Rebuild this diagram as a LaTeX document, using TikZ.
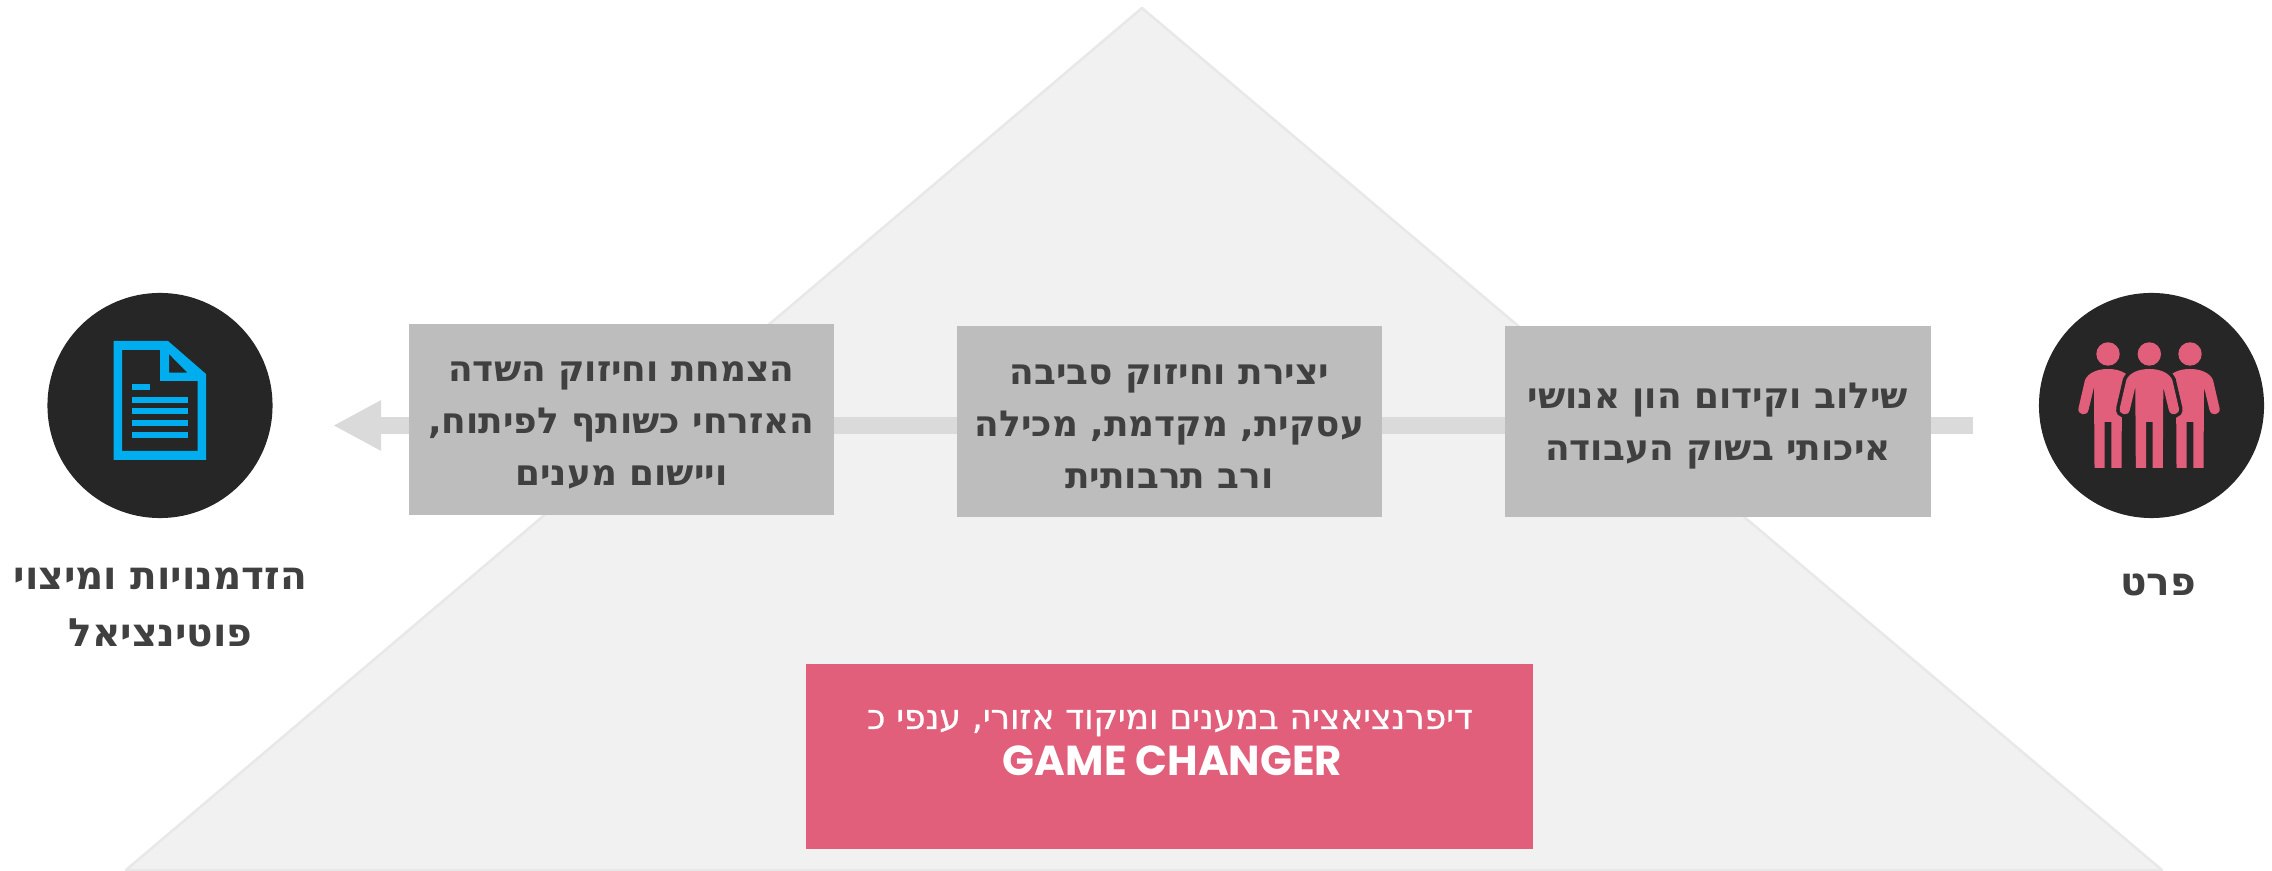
\documentclass[tikz,border=0pt]{standalone}
\usepackage{fontspec}
\usetikzlibrary{arrows.meta}
\TeXXeTstate=1
\newfontfamily\heb[Script=Hebrew]{DejaVu Sans}
\newfontfamily\hebsemi[Script=Hebrew,FakeBold=0.7]{DejaVu Sans}
\newfontfamily\gamefont{Poppins}
\definecolor{tri}{HTML}{F1F1F1}
\definecolor{triedge}{HTML}{E8E8E8}
\definecolor{boxgrey}{HTML}{BDBDBD}
\definecolor{shaft}{HTML}{DADADA}
\definecolor{ink}{HTML}{404040}
\definecolor{disc}{HTML}{262626}
\definecolor{pinkish}{HTML}{E15F7B}
\definecolor{docblue}{HTML}{00AEEF}
\tikzset{
  stepbox/.style={fill=boxgrey,minimum width=4.25cm,minimum height=1.91cm,inner sep=0pt,text=ink,align=center,font=\heb\bfseries\fontsize{10.2pt}{14.8pt}\selectfont},
  icondisc/.style={circle,fill=disc,minimum size=2.25cm,inner sep=0pt},
  caption/.style={text=ink,align=center,inner sep=0pt,font=\heb\bfseries\fontsize{11.1pt}{16.2pt}\selectfont}
}
\newcommand{\rl}[1]{\beginR #1\endR}
\newcommand{\bodypath}[1]{(#1+0,369) .. controls (#1+11,369) and (#1+20,373) .. (#1+23,380)
    -- (#1+29.5,408) .. controls (#1+31,415) and (#1+21,417) .. (#1+19.5,410)
    -- (#1+14,387) -- (#1+13.5,468) -- (#1+3.3,468) -- (#1+3.3,422) -- (#1-3.3,422) -- (#1-3.3,468) -- (#1-13.5,468) -- (#1-14,387)
    -- (#1-19.5,410) .. controls (#1-21,417) and (#1-31,415) .. (#1-29.5,408)
    -- (#1-23,380) .. controls (#1-20,373) and (#1-11,369) .. (#1+0,369) -- cycle}
\begin{document}
\begin{tikzpicture}[x=0.01cm,y=-0.01cm]
\useasboundingbox (0,0) rectangle (2272,871);
\fill[white] (0,0) rectangle (2272,871);
% pyramid
\fill[tri,draw=triedge,line width=0.7pt,line join=round] (1142,8) -- (2162,870) -- (126,870) -- cycle;
% arrow coordinates and shaft
\coordinate (shaftstart) at (1973,425.5);
\coordinate (shafttip) at (333,425.5);
\draw[shaft,line width=4.84pt,-{Triangle[length=13.7pt,width=13.4pt]}] (shaftstart) -- (shafttip);
% step boxes
\node[stepbox] (stepa) at (621.5,419.5) {\rule{0pt}{9.2pt}\rl{הצמחת וחיזוק השדה}\\\rl{האזרחי כשותף לפיתוח,}\\\rl{ויישום מענים}};
\node[stepbox] (stepb) at (1169.5,421.5) {\rule{0pt}{8.4pt}\rl{יצירת וחיזוק סביבה}\\\rl{עסקית, מקדמת, מכילה}\\\rl{ורב תרבותית}};
\node[stepbox] (stepc) at (1718,421.5) {\rule{0pt}{9.8pt}\rl{שילוב וקידום הון אנושי}\\\rl{איכותי בשוק העבודה}};
% discs
\node[icondisc] (left) at (160,405.5) {};
\node[icondisc] (right) at (2151.5,405.5) {};
% document icon
\fill[docblue,even odd rule]
  (113.5,341) -- (168,341) -- (206,374) -- (206,460) -- (113.5,460) -- cycle
  (122,350) -- (160,350) -- (160,381) -- (197.5,381) -- (197.5,451) -- (122,451) -- cycle
  (169,354) -- (187.6,372.7) -- (169,372.7) -- cycle;
\fill[docblue] (131.6,384) rectangle (150,390);
\foreach \yy in {397,408,420,432}{\fill[docblue] (131.6,\yy) rectangle (188,\yy+6);}
% people icon
\foreach \cx in {2108,2190}{
  \fill[pinkish] \bodypath{\cx};
  \fill[pinkish] (\cx,354) circle [radius=11.7];
}
\fill[pinkish,preaction={draw=disc,line width=2pt}] \bodypath{2149.3};
\fill[pinkish] (2149.3,354) circle [radius=11.7];
% captions
\node[caption] (lefttext) at (160.5,607) {\rl{הזדמנויות ומיצוי}\\\rl{פוטינציאל}};
\node[caption] (righttext) at (2158,585) {\rl{פרט}};
% bottom box
\node[fill=pinkish,minimum width=7.27cm,minimum height=1.85cm,inner sep=0pt] (pink) at (1169.5,756.5) {};
\node[text=white,inner sep=0pt,font=\hebsemi\fontsize{9.8pt}{10pt}\selectfont] (pinka) at (1170,723) {\rl{דיפרנציאציה במענים ומיקוד אזורי, ענפי כ}};
\node[text=white,inner sep=0pt,font=\gamefont\bfseries\fontsize{11.9pt}{12pt}\selectfont] (pinkb) at (1172.5,761) {GAME CHANGER};
\end{tikzpicture}
\end{document}
